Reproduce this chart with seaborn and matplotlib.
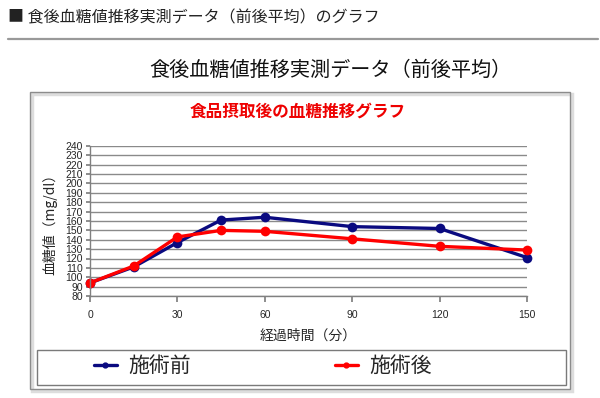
import pandas as pd
import matplotlib
matplotlib.use("Agg")
import matplotlib.pyplot as plt
import matplotlib.patches as patches
import matplotlib.lines as mlines
import seaborn as sns

# 経過時間（分）
minutes = [0, 15, 30, 45, 60, 90, 120, 150]
# 施術前 / 施術後 の血糖値 (mg/dl)
before = [94, 111, 137, 161, 164, 154, 152, 121]
after = [94, 112, 143, 150, 149, 141, 133, 129]
series_names = ["施術前", "施術後"]
series_colors = ["#0a0a80", "#ff0000"]
y_ticks = list(range(80, 241, 10))
x_ticks = [0, 30, 60, 90, 120, 150]

df = pd.DataFrame({
    "minute": minutes * 2,
    "value": before + after,
    "group": [series_names[0]] * len(minutes) + [series_names[1]] * len(minutes),
})

sns.set_theme(style="white")
plt.rcParams["font.family"] = ["Noto Sans CJK JP", "DejaVu Sans"]

W, H = 600, 398
fig = plt.figure(figsize=(6, 3.98), dpi=100)

def fx(px):
    return px / W

def fy(py):
    return 1 - py / H

# header
fig.text(fx(8), fy(18), "■ 食後血糖値推移実測データ（前後平均）のグラフ", fontsize=11.5,
         va="center", ha="left", color="#222222")
fig.add_artist(mlines.Line2D([fx(8), fx(598)], [fy(38.5), fy(38.5)],
                             color="#999999", lw=1.6))

# main title
fig.text(fx(330), fy(70), "食後血糖値推移実測データ（前後平均）", fontsize=14.5,
         ha="center", va="center", color="#111111")

# outer chart frame with soft shadow
fig.add_artist(patches.Rectangle((fx(32), fy(391)), fx(540), (389 - 92) / H,
                                 fill=False, edgecolor="#dddddd", lw=2.5))
fig.add_artist(patches.Rectangle((fx(30), fy(389)), fx(540), (389 - 92) / H,
                                 fill=False, edgecolor="#8c8c8c", lw=1.0))

fig.text(fx(298), fy(112), "食品摂取後の血糖推移グラフ", fontsize=12, fontweight="bold",
         ha="center", va="center", color="#ee0000")

ax = fig.add_axes([fx(90), fy(296), fx(437), (296 - 146) / H])
sns.lineplot(data=df, x="minute", y="value", hue="group", palette=series_colors,
             marker="o", markersize=7, markeredgewidth=0, linewidth=2.4,
             ax=ax, legend=False, clip_on=False)

ax.set_xlim(0, 150)
ax.set_ylim(80, 240)
ax.set_yticks(y_ticks)
ax.set_xticks(x_ticks)
ax.set_yticklabels([str(v) for v in y_ticks], fontsize=7.5, family="Liberation Sans")
ax.set_xticklabels([str(v) for v in x_ticks], fontsize=7.5, family="Liberation Sans")
ax.yaxis.grid(True, color="#8a8a8a", lw=1.0)
ax.xaxis.grid(False)
for s in ["top", "right"]:
    ax.spines[s].set_visible(False)
for s in ["left", "bottom"]:
    ax.spines[s].set_color("#808080")
    ax.spines[s].set_linewidth(1.0)
ax.tick_params(axis="x", length=4, color="#808080", direction="out", bottom=True, pad=6)
ax.tick_params(axis="y", length=3, color="#808080", direction="out", left=True, pad=2)
ax.set_xlabel("経過時間（分）", fontsize=10, labelpad=6)
ax.set_ylabel("血糖値（mg/dl）", fontsize=10, labelpad=6)
ax.set_facecolor("white")

# legend frame
fig.add_artist(patches.Rectangle((fx(37), fy(384.5)), fx(529), (384.5 - 350) / H,
                                 fill=False, edgecolor="#7a7a7a", lw=1.0))
handles = [mlines.Line2D([], [], color=c, lw=2.4, marker="o", markersize=3.5)
           for c in series_colors]
leg = fig.legend(handles, series_names, loc="center left", ncol=2,
                 bbox_to_anchor=(fx(94), fy(366)), borderaxespad=0, borderpad=0,
                 fontsize=15, frameon=False, handlelength=1.1, handletextpad=0.55,
                 columnspacing=6.9)

fig.savefig("out.png", dpi=100, facecolor="white")
